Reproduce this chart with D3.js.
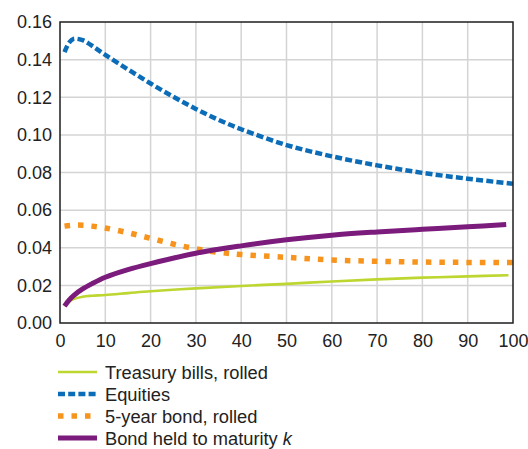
<!DOCTYPE html>
<html>
<head>
<meta charset="utf-8">
<script src="https://cdn.jsdelivr.net/npm/d3@7"></script>
<style>
  body { margin: 0; background: #fff; }
  svg { display: block; font-family: "Liberation Sans", Arial, sans-serif; }
  .axis text { font-size: 18px; fill: #222; }
  .axis path, .axis line { display: none; }
  .legend text { font-size: 18.3px; fill: #222; }
</style>
</head>
<body>
<div id="chart"></div>
<script>
// horizons (x) and annualized values for each series
const xTicks = [0, 10, 20, 30, 40, 50, 60, 70, 80, 90, 100];
const yTicks = [0, 0.02, 0.04, 0.06, 0.08, 0.10, 0.12, 0.14, 0.16];

const billsX = [1, 2, 3, 5, 7, 10, 15, 20, 30, 40, 50, 60, 70, 80, 90, 99];
const billsY = [0.009, 0.0113, 0.0127, 0.014, 0.0145, 0.0149, 0.0159, 0.0169, 0.0184, 0.0197, 0.0208, 0.0221, 0.0232, 0.0241, 0.0248, 0.0254];

const equityX = [1, 2, 3, 5, 7, 10, 15, 20, 25, 30, 35, 40, 50, 60, 70, 80, 90, 100];
const equityY = [0.144, 0.149, 0.151, 0.1503, 0.1475, 0.1425, 0.1348, 0.1273, 0.1203, 0.1138, 0.108, 0.103, 0.0946, 0.0886, 0.0838, 0.0798, 0.0767, 0.074];

const bond5X = [1, 3, 5, 7, 10, 15, 20, 25, 30, 35, 40, 50, 60, 70, 80, 90, 100];
const bond5Y = [0.0515, 0.052, 0.052, 0.0515, 0.0505, 0.048, 0.045, 0.042, 0.0394, 0.0376, 0.0364, 0.0349, 0.0335, 0.0328, 0.0324, 0.0322, 0.0321];

const maturityX = [1, 2, 3, 5, 7, 10, 15, 20, 30, 40, 50, 60, 70, 80, 90, 98.5];
const maturityY = [0.009, 0.0122, 0.0146, 0.0181, 0.0208, 0.0243, 0.0284, 0.0316, 0.0371, 0.041, 0.0442, 0.0467, 0.0484, 0.0498, 0.0511, 0.0523];

const seriesNames = ["Treasury bills, rolled", "Equities", "5-year bond, rolled", "Bond held to maturity"];

// styles per series
const styles = [
	{ color: "#bdd630", width: 2.6, dash: null },
	{ color: "#0b6cb8", width: 4.5, dash: "7,3.2" },
	{ color: "#f7941d", width: 5.5, dash: "5.5,8" },
	{ color: "#7b1b7c", width: 5, dash: null }
];

const series = [
	{ name: seriesNames[0], xs: billsX, ys: billsY, style: styles[0] },
	{ name: seriesNames[1], xs: equityX, ys: equityY, style: styles[1] },
	{ name: seriesNames[2], xs: bond5X, ys: bond5Y, style: styles[2] },
	{ name: seriesNames[3], xs: maturityX, ys: maturityY, style: styles[3] }
];

let width = 528;
let height = 449;
let margin = { top: 22, left: 60, right: 15, bottom: 126 };
let innerWidth = width - margin.left - margin.right;
let innerHeight = height - margin.top - margin.bottom;

let x = d3.scaleLinear().domain([0, 100]).range([0, innerWidth]);
let y = d3.scaleLinear().domain([0, 0.16]).range([innerHeight, 0]);

let svg = d3.select("#chart").append("svg")
	.attr("width", width)
	.attr("height", height);

let g = svg.append("g")
	.attr("transform", "translate(" + margin.left + "," + margin.top + ")");

// grid
g.append("g").selectAll("line")
	.data(xTicks.slice(1, -1))
	.join("line")
	.attr("x1", d => x(d)).attr("x2", d => x(d))
	.attr("y1", 0).attr("y2", innerHeight)
	.attr("stroke", "#d4d4d4").attr("stroke-width", 1.5);

g.append("g").selectAll("line")
	.data(yTicks.slice(1, -1))
	.join("line")
	.attr("x1", 0).attr("x2", innerWidth)
	.attr("y1", d => y(d)).attr("y2", d => y(d))
	.attr("stroke", "#d4d4d4").attr("stroke-width", 1.5);

// axes
g.append("g")
	.attr("class", "x-axis axis")
	.attr("transform", "translate(0," + innerHeight + ")")
	.call(d3.axisBottom(x).tickValues(xTicks).tickSize(0).tickPadding(11));

g.append("g")
	.attr("class", "y-axis axis")
	.call(d3.axisLeft(y).tickValues(yTicks).tickSize(0).tickPadding(8).tickFormat(d3.format(".2f")));

// lines
let line = d3.line()
	.x(d => x(d[0]))
	.y(d => y(d[1]))
	.curve(d3.curveCatmullRom.alpha(0.5));

g.append("g").selectAll("path")
	.data(series)
	.join("path")
	.attr("d", s => line(s.xs.map((v, i) => [v, s.ys[i]])))
	.attr("fill", "none")
	.attr("stroke", s => s.style.color)
	.attr("stroke-width", s => s.style.width)
	.attr("stroke-dasharray", s => s.style.dash)
	.attr("stroke-linejoin", "round");

// frame
g.append("rect")
	.attr("width", innerWidth)
	.attr("height", innerHeight)
	.attr("fill", "none")
	.attr("stroke", "#1e1e1e")
	.attr("stroke-width", 1.5);

// legend
let legend = svg.append("g")
	.attr("class", "legend")
	.attr("transform", "translate(58,372)");

let rows = legend.selectAll("g")
	.data(series)
	.join("g")
	.attr("transform", (d, i) => "translate(0," + i * 22 + ")");

rows.append("line")
	.attr("x1", 0).attr("x2", 39)
	.attr("y1", 0).attr("y2", 0)
	.attr("stroke", s => s.style.color)
	.attr("stroke-width", s => s.style.width)
	.attr("stroke-dasharray", s => s.style.dash);

let labels = rows.append("text")
	.attr("x", 47)
	.attr("y", 6.5)
	.text(s => s.name);

labels.filter((d, i) => i === 3)
	.append("tspan")
	.attr("font-style", "italic")
	.text(" k");
</script>
</body>
</html>
